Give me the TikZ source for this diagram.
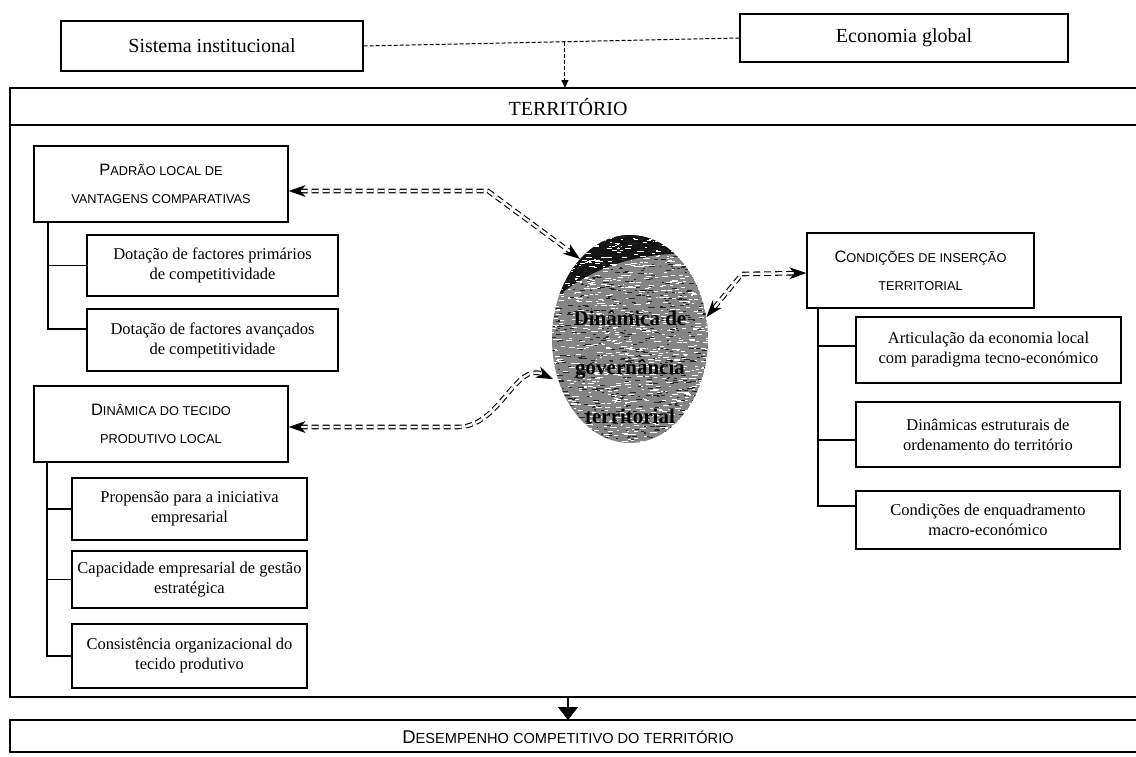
\documentclass[tikz,border=0pt]{standalone}
\usepackage{fontspec}
\setmainfont{Liberation Serif}
\newfontfamily\headsans{Liberation Sans}
\usetikzlibrary{arrows.meta,calc,shapes.geometric}

% enlarged first letter of a small-caps heading
\newcommand\hcap[1]{{\fontsize{16.5}{16}\selectfont #1}}
\newcommand\dcap[1]{{\fontsize{18.5}{18}\selectfont #1}}
% filled dart-shaped head at point #1, its back turned towards point #2
\newcommand\darthead[2]{%
  \coordinate (dhB) at ($(#1)!17pt!(#2)$);
  \coordinate (dhI) at ($(#1)!12pt!(#2)$);
  \fill[black] (#1) -- ($(dhB)!6pt!90:(#1)$) -- (dhI) -- ($(dhB)!6pt!-90:(#1)$) -- cycle;}

\begin{document}
\begin{tikzpicture}[x=1pt,y=-1pt,
  box/.style={draw, line width=1.2pt, inner sep=0pt, align=center,
    font=\fontsize{16.5}{20}\selectfont},
  topbox/.style={draw, line width=1.1pt, inner sep=0pt, align=center,
    font=\fontsize{20}{22}\selectfont},
  headbox/.style={draw, line width=1.3pt, inner sep=0pt, align=center,
    font=\headsans\fontsize{12.8}{28}\selectfont},
  branch/.style={line width=1.2pt},
  frame/.style={line width=2.6pt},
  dbl/.style={line width=1.1pt, double distance=2.4pt, dash pattern=on 7pt off 4pt,
    shorten <=12pt, shorten >=12pt},
]
\useasboundingbox (0,0) rectangle (1136,756);
\fill[white] (0,0) rectangle (1136,756);

% ---------- outer influences ----------
\node[topbox, minimum width=302, minimum height=50] (sist) at (212,46) {Sistema institucional};
\node[topbox, minimum width=328, minimum height=48] (econ) at (904,38) {Economia global};
\coordinate (jn) at ($(sist.east)!0.5357!(econ.west)$);
\coordinate (ttop) at (568,88);
\draw[line width=1pt, dash pattern=on 4pt off 2pt] (sist.east) -- (econ.west);
\draw[line width=1pt, dash pattern=on 4pt off 2pt, -{Triangle[length=8pt,width=7pt]}]
  (jn) -- (jn |- ttop);

% ---------- territory frame ----------
\draw[frame] (1140,88) -- (10,88) -- (10,697) -- (1140,697);
\draw[line width=2.2pt] (10,125) -- (1140,125);
\node[font=\fontsize{20}{22}\selectfont] (terr) at (568,107) {TERRITÓRIO};

% ---------- left column ----------
\node[headbox, minimum width=254, minimum height=76] (padrao) at (161,184)
  {\hcap{P}ADRÃO LOCAL DE\\VANTAGENS COMPARATIVAS};
\node[box, minimum width=251, minimum height=61] (dprim) at (212.5,265.5)
  {Dotação de factores primários\\de competitividade};
\node[box, minimum width=251, minimum height=62] (davan) at (212.5,340)
  {Dotação de factores avançados\\de competitividade};
\coordinate (pa) at (48,222);
\draw[branch] (pa) |- ([yshift=11pt]davan.west);
\draw[branch] (pa |- dprim.west) -- (dprim.west);

\node[headbox, minimum width=254, minimum height=76] (dintec) at (161,424)
  {\hcap{D}INÂMICA DO TECIDO\\PRODUTIVO LOCAL};
\node[box, minimum width=235, minimum height=62] (prop) at (189.5,509)
  {Propensão para a iniciativa\\empresarial};
\node[box, minimum width=235, minimum height=57] (capa) at (189.5,579.5)
  {Capacidade empresarial de gestão\\estratégica};
\node[box, minimum width=235, minimum height=64] (cons) at (189.5,656)
  {Consistência organizacional do\\tecido produtivo};
\coordinate (pb) at (47,462);
\draw[branch] (pb) |- (cons.west);
\draw[branch] (pb |- prop.west) -- (prop.west);
\draw[branch] (pb |- capa.west) -- (capa.west);

% ---------- right column ----------
\node[headbox, minimum width=227, minimum height=75] (cond) at (920.5,270.5)
  {\hcap{C}ONDIÇÕES DE INSERÇÃO\\TERRITORIAL};
\node[box, minimum width=265, minimum height=66] (artic) at (988.5,350)
  {Articulação da economia local\\com paradigma tecno-económico};
\node[box, minimum width=264, minimum height=65] (dinest) at (988,434.5)
  {Dinâmicas estruturais de\\ordenamento do território};
\node[box, minimum width=264, minimum height=58] (condenq) at (988,520)
  {Condições de enquadramento\\macro-económico};
\coordinate (pc) at (818,308);
\draw[branch] (pc) |- ([yshift=14pt]condenq.west);
\draw[branch] ([yshift=4pt]pc |- artic.west) -- ([yshift=4pt]artic.west);
\draw[branch] ([yshift=-5.5pt]pc |- dinest.west) -- ([yshift=-5.5pt]dinest.west);

% ---------- central governance ellipse ----------
\node[ellipse, minimum width=156, minimum height=208, inner sep=0pt] (gov) at (630,339) {};
\begin{scope}
  \clip (gov.center) ellipse [x radius=78, y radius=104];
  \fill[black!48] (gov.center) ellipse [x radius=78, y radius=104];
  % dark crescent along the upper left rim
  \fill[black!92] (559.3,295) arc [start angle=-155, end angle=-55, x radius=78, y radius=104]
    .. controls (645,255) and (600,262) .. cycle;
  \pgfmathsetseed{11}
  \foreach \k in {1,...,1100}{
    \pgfmathsetmacro\px{630+80*rand}
    \pgfmathsetmacro\py{339+106*rand}
    \pgfmathsetmacro\pl{1.5+5*rnd}
    \draw[white, line width=0.8pt] (\px,\py) -- ++(\pl,0);
  }
  \foreach \k in {1,...,700}{
    \pgfmathsetmacro\px{630+80*rand}
    \pgfmathsetmacro\py{339+106*rand}
    \pgfmathsetmacro\pl{1.5+4*rnd}
    \draw[black!85, line width=0.8pt] (\px,\py) -- ++(\pl,0);
  }
\end{scope}
\node[font=\bfseries\fontsize{21}{49}\selectfont, align=center] (govtxt) at (630,367)
  {Dinâmica de\\governância\\territorial};

% ---------- double dashed interactions ----------
\coordinate (a0) at ([yshift=-7pt]padrao.east);
\coordinate (ka) at (488,191);
\coordinate (a1) at (gov.122);
\draw[dbl] (a0) -- (ka) -- (a1);
\darthead{a0}{ka}
\darthead{a1}{ka}

\coordinate (b0) at ([yshift=-3pt]dintec.east);
\coordinate (kb) at (458,427);
\coordinate (b1) at ([shift={(-6,-4)}]gov.212);
\coordinate (kb2) at ($(b1)+(155:20pt)$);
\draw[dbl] (b0) -- (kb) to[out=0,in=155] (b1);
\darthead{b0}{kb}
\darthead{b1}{kb2}

\coordinate (c0) at (gov.16);
\coordinate (kc) at (742,274);
\coordinate (c1) at ([yshift=-2.5pt]cond.west);
\draw[dbl] (c0) -- (kc) -- (c1);
\darthead{c0}{kc}
\darthead{c1}{kc}

% ---------- outcome ----------
\coordinate (tb) at (568,697);
\coordinate (dtop) at (568,720);
\draw[line width=1.2pt, -{Triangle[length=13pt,width=20pt]}] (tb) -- (dtop);
\draw[line width=2pt] (1140,720) -- (10,720) -- (10,752) -- (1140,752);
\node[font=\headsans\fontsize{14.6}{16}\selectfont] (desemp) at (568,737)
  {\dcap{D}ESEMPENHO COMPETITIVO DO TERRITÓRIO};
\end{tikzpicture}
\end{document}
